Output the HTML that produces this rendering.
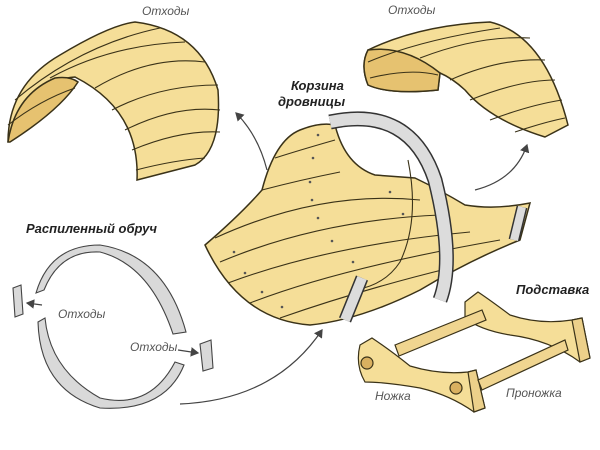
<!DOCTYPE html>
<html><head><meta charset="utf-8"><style>
body{margin:0;background:#fff}
svg{display:block}
text{font-family:"Liberation Sans",sans-serif;font-style:italic;fill:#555}
.b{font-weight:bold;fill:#222}
</style></head><body>
<svg width="600" height="450" viewBox="0 0 600 450">
<defs>
<marker id="ar" markerWidth="8" markerHeight="8" refX="6" refY="4" orient="auto"><path d="M0,0 L7,4 L0,8 Z" fill="#444"/></marker>
</defs>
<g stroke="#3a3218" stroke-width="1.5" fill="#f5de98">
<!-- top-left shell -->
<path d="M8,142 Q8,85 60,55 Q110,25 135,22 Q200,30 218,90 Q222,150 195,165 L137,180 Q140,110 75,77 Q30,80 8,142 Z"/>
<path d="M8,142 Q15,95 55,78 Q70,76 78,82 Q60,110 10,142Z" fill="#e6c270"/>
<g fill="none" stroke-width="1.1"><path d="M15,100 Q80,45 160,28"/><path d="M50,78 Q110,45 185,42"/><path d="M95,88 Q150,55 205,62"/><path d="M112,110 Q160,85 218,85"/><path d="M125,130 Q175,105 220,110"/><path d="M132,150 Q180,130 220,132"/><path d="M136,170 Q175,160 205,158"/><path d="M8,125 Q40,100 75,88"/></g>
<!-- top-right shell -->
<path d="M368,50 Q420,25 490,22 Q545,35 568,125 L545,137 Q490,120 465,90 Q452,78 440,73 L438,90 Q390,95 368,85 Q360,65 368,50Z"/>
<path d="M368,50 Q405,45 440,73 L438,90 Q390,95 368,85 Q360,65 368,50Z" fill="#e6c270"/>
<g fill="none" stroke-width="1.1"><path d="M368,62 Q420,40 500,28"/><path d="M370,78 Q410,68 438,75"/><path d="M420,58 Q480,35 530,38"/><path d="M450,80 Q500,58 545,60"/><path d="M470,100 Q520,80 555,80"/><path d="M490,120 Q530,105 562,100"/><path d="M515,132 Q545,122 565,118"/></g>
<!-- basket -->
<path d="M205,245 Q240,215 262,190 Q275,140 300,130 Q320,122 335,125 Q345,165 375,175 L415,178 Q440,190 465,205 Q495,210 530,203 L520,240 Q470,260 420,290 Q360,320 310,325 Q240,320 205,245Z"/>
<g fill="none" stroke-width="1.1"><path d="M215,238 Q320,190 420,200"/><path d="M220,262 Q320,220 440,215"/><path d="M228,283 Q330,245 470,232"/><path d="M250,303 Q340,268 500,240"/><path d="M280,318 Q360,290 450,268"/><path d="M262,190 Q300,180 340,172"/><path d="M275,158 Q300,150 335,140"/><path d="M408,160 Q420,220 400,262 Q385,285 355,290"/></g>
<g fill="#555" stroke="none"><circle cx="234" cy="252" r="1.3"/><circle cx="245" cy="273" r="1.3"/><circle cx="262" cy="292" r="1.3"/><circle cx="282" cy="307" r="1.3"/><circle cx="318" cy="135" r="1.3"/><circle cx="313" cy="158" r="1.3"/><circle cx="310" cy="182" r="1.3"/><circle cx="312" cy="200" r="1.3"/><circle cx="318" cy="218" r="1.3"/><circle cx="332" cy="241" r="1.3"/><circle cx="353" cy="262" r="1.3"/><circle cx="390" cy="192" r="1.3"/><circle cx="403" cy="214" r="1.3"/></g>
</g>
<!-- metal band -->
<g fill="none">
<path d="M330,122 Q410,105 435,180 Q455,260 440,300" stroke="#333" stroke-width="15"/>
<path d="M330,122 Q410,105 435,180 Q455,260 440,300" stroke="#dcdcdc" stroke-width="12"/>
<path d="M362,278 L345,320" stroke="#333" stroke-width="13"/>
<path d="M362,278 L345,320" stroke="#dcdcdc" stroke-width="10"/>
<path d="M522,207 L514,240" stroke="#333" stroke-width="11"/>
<path d="M522,207 L514,240" stroke="#dcdcdc" stroke-width="8"/>
</g>
<!-- ring -->
<g fill="#d9d9d9" stroke="#444" stroke-width="1.1">
<path d="M36,293 Q50,245 100,245 Q165,255 186,332 L173,334 Q150,265 100,252 Q60,250 44,290Z"/>
<path d="M38,322 L45,318 Q50,370 100,398 Q150,410 175,362 L184,365 Q165,412 100,408 Q40,390 38,322Z"/>
<path d="M13,288 L21,285 L23,314 L15,317Z"/>
<path d="M200,344 L211,340 L213,368 L203,371Z"/>
</g>
<!-- stand -->
<g fill="#f5de98" stroke="#3a3218" stroke-width="1.2">
<path d="M465,302 L478,292 Q490,300 510,315 Q540,325 572,320 L582,318 L590,358 L580,362 Q550,340 510,335 Q480,330 465,318Z"/>
<path d="M572,320 L582,318 L590,358 L580,362Z" fill="#ecd08a"/>
<path d="M395,345 L482,310 L486,320 L399,356Z" fill="#f0d590"/>
<path d="M360,345 L372,338 Q390,350 410,366 Q440,375 468,372 L476,370 L485,408 L474,412 Q450,395 420,388 Q385,382 365,382 Q355,365 360,345Z"/>
<path d="M468,372 L476,370 L485,408 L474,412Z" fill="#ecd08a"/>
<path d="M478,380 L565,340 L568,350 L482,390Z" fill="#f0d590"/>
<circle cx="367" cy="363" r="6" fill="#d9b060"/><circle cx="456" cy="388" r="6" fill="#d9b060"/>
</g>
<!-- arrows -->
<g fill="none" stroke="#444" stroke-width="1.2" marker-end="url(#ar)">
<path d="M267,170 Q258,135 236,113"/>
<path d="M475,190 Q515,180 527,145"/>
<path d="M180,404 Q275,400 322,330"/>
<path d="M42,305 L27,303"/>
<path d="M178,350 L198,353"/>
</g>
<text x="142" y="15" font-size="12">Отходы</text>
<text x="388" y="14" font-size="12">Отходы</text>
<text x="291" y="90" font-size="13" class="b">Корзина</text>
<text x="278" y="106" font-size="13" class="b">дровницы</text>
<text x="26" y="233" font-size="13" class="b">Распиленный обруч</text>
<text x="58" y="318" font-size="12">Отходы</text>
<text x="130" y="351" font-size="12">Отходы</text>
<text x="516" y="294" font-size="13" class="b">Подставка</text>
<text x="375" y="400" font-size="12">Ножка</text>
<text x="506" y="397" font-size="12">Проножка</text>
</svg>
</body></html>
